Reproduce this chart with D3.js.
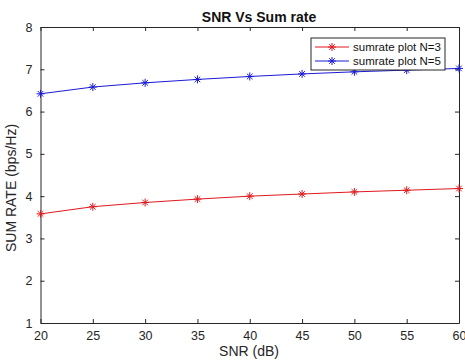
<!DOCTYPE html>
<html>
<head>
<meta charset="utf-8">
<script src="https://cdn.jsdelivr.net/npm/d3@7"></script>
<style>
  body { margin: 0; background: #fff; }
  svg { font-family: "Liberation Sans", Arial, sans-serif; }
</style>
</head>
<body>
<div id="chart"></div>
<script>
// data
const snr = [20, 25, 30, 35, 40, 45, 50, 55, 60];
const sumrateN3 = [3.58, 3.75, 3.85, 3.93, 4.0, 4.05, 4.1, 4.14, 4.18];
const sumrateN5 = [6.42, 6.58, 6.68, 6.76, 6.83, 6.89, 6.94, 6.98, 7.02];
const xTicks = [20, 25, 30, 35, 40, 45, 50, 55, 60];
const yTicks = [1, 2, 3, 4, 5, 6, 7, 8];
const seriesNames = ["sumrate plot N=3", "sumrate plot N=5"];

const width = 465, height = 360;
const margin = { top: 27, right: 6, bottom: 37, left: 40.5 };

const svg = d3.select("#chart").append("svg")
  .attr("width", width)
  .attr("height", height);

const x = d3.scaleLinear().domain([20, 60]).range([margin.left, width - margin.right]);
const y = d3.scaleLinear().domain([1, 8]).range([height - margin.bottom, margin.top]);

const axisColor = "#262626";

// axes, ticks pointing inward like matlab
svg.append("g")
  .attr("transform", `translate(0,${height - margin.bottom})`)
  .call(d3.axisBottom(x).tickValues(xTicks).tickFormat(d3.format("d"))
    .tickSizeInner(-4).tickSizeOuter(0).tickPadding(8));
svg.append("g")
  .attr("transform", `translate(${margin.left},0)`)
  .call(d3.axisLeft(y).tickValues(yTicks).tickFormat(d3.format("d"))
    .tickSizeInner(-4).tickSizeOuter(0).tickPadding(8));
svg.append("g")
  .attr("transform", `translate(0,${margin.top})`)
  .call(d3.axisTop(x).tickValues(xTicks).tickSizeInner(-4).tickSizeOuter(0).tickFormat(""));
svg.append("g")
  .attr("transform", `translate(${width - margin.right},0)`)
  .call(d3.axisRight(y).tickValues(yTicks).tickSizeInner(-4).tickSizeOuter(0).tickFormat(""));

svg.selectAll(".domain").attr("stroke", axisColor).attr("stroke-width", 1);
svg.selectAll(".tick line").attr("stroke", axisColor);
svg.selectAll(".tick text")
  .attr("fill", axisColor)
  .style("font-size", "12.5px")
  .style("font-family", "Liberation Sans, Arial, sans-serif");

// title and labels
svg.append("text")
  .attr("x", 259)
  .attr("y", 22)
  .attr("text-anchor", "middle")
  .attr("font-size", "14px")
  .attr("font-weight", "bold")
  .attr("fill", "#111")
  .text("SNR Vs Sum rate");

svg.append("text")
  .attr("x", 249)
  .attr("y", 356)
  .attr("text-anchor", "middle")
  .attr("font-size", "14px")
  .attr("fill", axisColor)
  .text("SNR (dB)");

svg.append("text")
  .attr("transform", "translate(16,188) rotate(-90)")
  .attr("text-anchor", "middle")
  .attr("font-size", "14px")
  .attr("fill", axisColor)
  .text("SUM RATE (bps/Hz)");

// star marker like matlab '*'
function star(g, cx, cy, color) {
  const s = 4;
  const d = `M${cx - s},${cy}L${cx + s},${cy}M${cx},${cy - s}L${cx},${cy + s}` +
    `M${cx - s * 0.7},${cy - s * 0.7}L${cx + s * 0.7},${cy + s * 0.7}` +
    `M${cx - s * 0.7},${cy + s * 0.7}L${cx + s * 0.7},${cy - s * 0.7}`;
  g.append("path").attr("d", d).attr("stroke", color).attr("stroke-width", 1).attr("fill", "none");
}

const series = [
  { name: seriesNames[0], values: sumrateN3, color: "#e0191e" },
  { name: seriesNames[1], values: sumrateN5, color: "#1a1ad6" }
];

const line = d3.line().x((d, i) => x(snr[i])).y(d => y(d));

series.forEach(s => {
  svg.append("path")
    .datum(s.values)
    .attr("d", line)
    .attr("fill", "none")
    .attr("stroke", s.color)
    .attr("stroke-width", 1);
  const g = svg.append("g");
  s.values.forEach((v, i) => star(g, x(snr[i]), y(v), s.color));
});

// legend
const legend = svg.append("g").attr("transform", "translate(311,38)");
legend.append("rect")
  .attr("width", 134)
  .attr("height", 32)
  .attr("fill", "#fff")
  .attr("stroke", axisColor)
  .attr("stroke-width", 1);
series.forEach((s, i) => {
  const ly = 9 + i * 14;
  legend.append("line")
    .attr("x1", 4).attr("x2", 38)
    .attr("y1", ly).attr("y2", ly)
    .attr("stroke", s.color);
  star(legend, 21, ly, s.color);
  legend.append("text")
    .attr("x", 42)
    .attr("y", ly + 4)
    .attr("font-size", "11.5px")
    .attr("fill", "#111")
    .text(s.name);
});
</script>
</body>
</html>
